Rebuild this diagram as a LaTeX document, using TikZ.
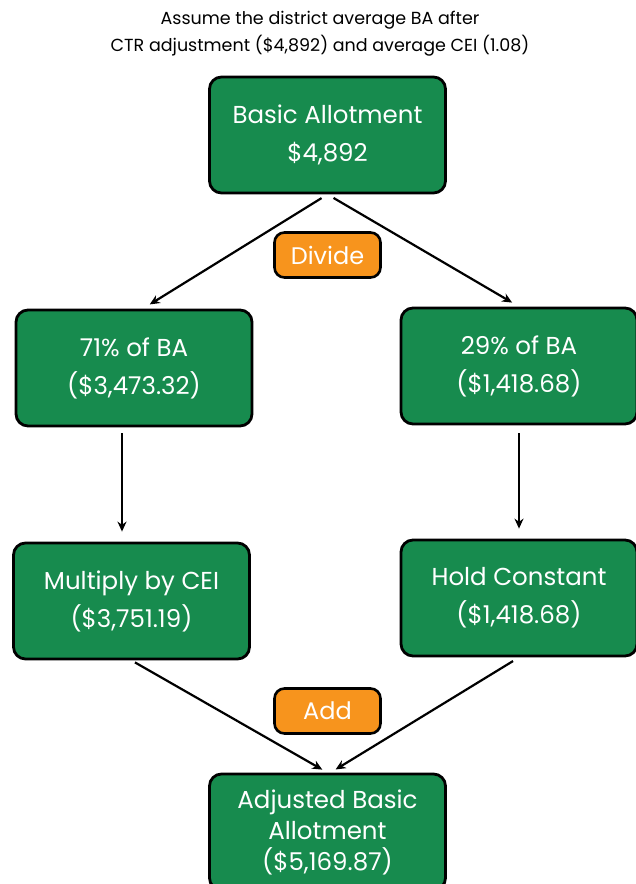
\documentclass[tikz,border=0pt]{standalone}
\usepackage{fontspec}
\setmainfont{Poppins}
\usepackage{xcolor}
\usetikzlibrary{arrows.meta, positioning}
\definecolor{boxgreen}{HTML}{178B4E}
\definecolor{oporange}{HTML}{F7941D}

\begin{document}
\begin{tikzpicture}[x=1pt,y=-1pt,
  stepbox/.style={draw=black,line width=2.8pt,fill=boxgreen,rounded corners=12pt,
    text=white,align=center,minimum width=236pt,minimum height=116pt,
    font=\fontsize{24.5}{38}\selectfont},
  opbox/.style={draw=black,line width=2.6pt,fill=oporange,rounded corners=10pt,
    text=white,minimum width=106pt,minimum height=45pt,
    font=\fontsize{24}{26}\selectfont},
  flow/.style={line width=2.2pt,-{Stealth[length=10pt,width=9pt]}}]
\useasboundingbox (0,0) rectangle (636,884);
\clip (0,0) rectangle (636,884);

\node[align=center,font=\fontsize{17.5}{27}\selectfont] (title) at (320,34)
  {Assume the district average BA after\\CTR adjustment (\$4,892) and average CEI (1.08)};

\node[stepbox] (ba) at (327.5,135) {Basic Allotment\\\$4,892};
\node[opbox] (divide) at (327.5,255) {Divide};
\node[stepbox] (pa) at (134,368) {71\% of BA\\(\$3,473.32)};
\node[stepbox] (pb) at (519,366) {29\% of BA\\(\$1,418.68)};
\node[stepbox] (mult) at (131.5,601) {Multiply by CEI\\(\$3,751.19)};
\node[stepbox] (hold) at (519,598) {Hold Constant\\(\$1,418.68)};
\node[opbox] (add) at (327.5,711) {Add};
\node[stepbox,font=\fontsize{24.5}{31}\selectfont] (adj) at (327.5,832)
  {Adjusted Basic\\Allotment\\(\$5,169.87)};

\draw[flow,shorten <=7pt,shorten >=8pt] (ba.south) -- ([xshift=9pt]pa.north);
\draw[flow,shorten <=7pt,shorten >=8pt] (ba.south) -- (pb.north);
\draw[flow,shorten <=6pt,shorten >=10pt] ([xshift=-12pt]pa.south) -- ([xshift=-12pt]pa.south |- mult.north);
\draw[flow,shorten <=8pt,shorten >=10pt] (pb.south) -- (pb.south |- hold.north);
\draw[flow,shorten <=4pt,shorten >=6pt] (mult.south) -- (adj.north);
\draw[flow,shorten <=7pt,shorten >=6pt] (hold.south) -- ([xshift=3pt]adj.north);
\end{tikzpicture}
\end{document}
